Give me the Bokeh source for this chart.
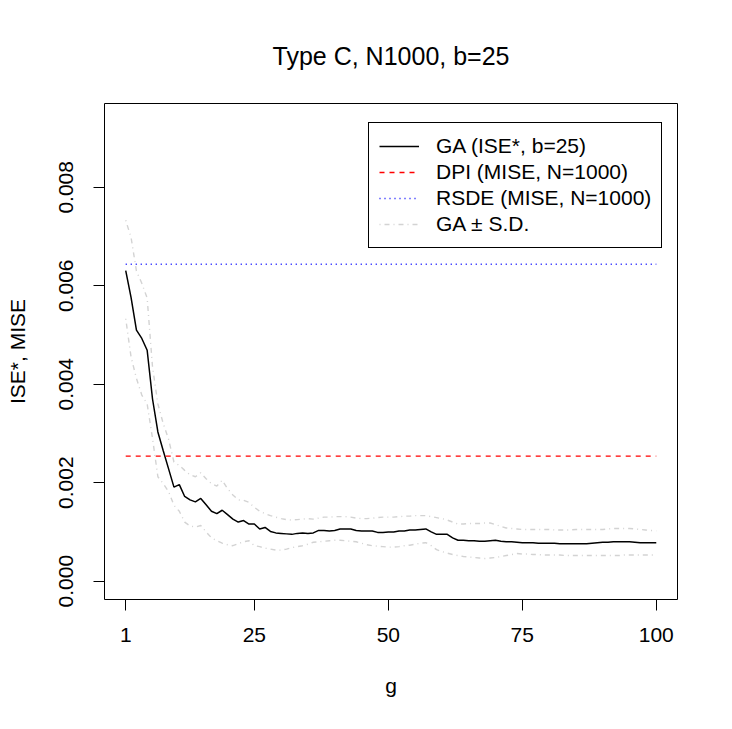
from bokeh.plotting import figure
from bokeh.models import (ColumnDataSource, FixedTicker, Legend, LegendItem, Range1d,
                          NumeralTickFormatter)
from bokeh.embed import file_html
from bokeh.resources import INLINE

# ---- data (values in units of 1e-3) ----
g = list(range(1, 101))
ga = [6.31, 5.76, 5.10, 4.93, 4.69, 3.70, 3.03, 2.65, 2.28, 1.91,
      1.96, 1.72, 1.65, 1.61, 1.68, 1.55, 1.42, 1.37, 1.44, 1.35,
      1.26, 1.20, 1.23, 1.16, 1.16, 1.06, 1.09, 1.01, 0.98, 0.97,
      0.96, 0.95, 0.97, 0.98, 0.97, 0.98, 1.03, 1.03, 1.02, 1.03,
      1.06, 1.06, 1.06, 1.03, 1.02, 1.02, 1.02, 0.99, 0.99, 1.00,
      1.00, 1.02, 1.02, 1.04, 1.04, 1.05, 1.06, 1.00, 0.95, 0.95,
      0.95, 0.88, 0.83, 0.83, 0.82, 0.82, 0.81, 0.81, 0.82, 0.83,
      0.81, 0.80, 0.80, 0.79, 0.78, 0.78, 0.78, 0.77, 0.77, 0.77,
      0.77, 0.76, 0.76, 0.76, 0.76, 0.76, 0.76, 0.77, 0.78, 0.79,
      0.79, 0.80, 0.80, 0.80, 0.80, 0.79, 0.78, 0.78, 0.78, 0.78]
ga_upper = [7.33, 6.98, 6.30, 6.05, 5.75, 4.35, 3.60, 3.20, 2.88, 2.42,
            2.35, 2.25, 2.16, 2.12, 2.20, 2.08, 1.98, 1.93, 2.05, 1.88,
            1.75, 1.65, 1.64, 1.60, 1.50, 1.42, 1.37, 1.33, 1.30, 1.27,
            1.25, 1.24, 1.25, 1.26, 1.27, 1.26, 1.28, 1.30, 1.30, 1.31,
            1.31, 1.31, 1.30, 1.28, 1.27, 1.27, 1.28, 1.29, 1.30, 1.30,
            1.30, 1.31, 1.32, 1.32, 1.33, 1.33, 1.33, 1.31, 1.29, 1.27,
            1.24, 1.20, 1.16, 1.16, 1.17, 1.17, 1.17, 1.18, 1.18, 1.15,
            1.11, 1.08, 1.07, 1.06, 1.05, 1.05, 1.05, 1.05, 1.05, 1.05,
            1.04, 1.04, 1.04, 1.04, 1.05, 1.05, 1.05, 1.05, 1.05, 1.05,
            1.06, 1.07, 1.07, 1.07, 1.07, 1.06, 1.05, 1.04, 1.03, 1.02]
ga_lower = [5.33, 4.55, 4.12, 3.78, 3.60, 2.90, 2.12, 1.98, 1.82, 1.54,
            1.42, 1.20, 1.12, 1.10, 1.13, 1.00, 0.88, 0.82, 0.77, 0.74,
            0.72, 0.76, 0.80, 0.82, 0.72, 0.70, 0.67, 0.65, 0.63, 0.63,
            0.65, 0.68, 0.70, 0.72, 0.75, 0.79, 0.80, 0.81, 0.82, 0.83,
            0.83, 0.82, 0.81, 0.80, 0.77, 0.74, 0.72, 0.71, 0.70, 0.69,
            0.69, 0.70, 0.72, 0.73, 0.75, 0.77, 0.78, 0.72, 0.64, 0.60,
            0.57, 0.54, 0.52, 0.50, 0.49, 0.48, 0.47, 0.46, 0.47, 0.48,
            0.50, 0.52, 0.54, 0.56, 0.55, 0.55, 0.54, 0.54, 0.53, 0.53,
            0.53, 0.53, 0.52, 0.52, 0.52, 0.52, 0.52, 0.52, 0.52, 0.52,
            0.52, 0.52, 0.52, 0.53, 0.53, 0.53, 0.53, 0.53, 0.53, 0.53]
dpi_mise = 2.54
rsde_mise = 6.44
UNIT = 1e-3

x_ticks = [1, 25, 50, 75, 100]
y_ticks = [0.000, 0.002, 0.004, 0.006, 0.008]
y_lim = (0.0, 0.00933)

labels = ["GA (ISE*, b=25)", "DPI (MISE, N=1000)", "RSDE (MISE, N=1000)", "GA \u00b1 S.D."]

FONT = "Liberation Sans"

src = ColumnDataSource(dict(
    g=g,
    ga=[v * UNIT for v in ga],
    up=[v * UNIT for v in ga_upper],
    lo=[v * UNIT for v in ga_lower],
    dpi=[dpi_mise * UNIT] * len(g),
    rsde=[rsde_mise * UNIT] * len(g),
))

xr = (min(g), max(g))
xpad = 0.04 * (xr[1] - xr[0])
ypad = 0.04 * (y_lim[1] - y_lim[0])

p = figure(width=724, height=721, output_backend="svg", toolbar_location=None,
           x_range=Range1d(xr[0] - xpad, xr[1] + xpad),
           y_range=Range1d(y_lim[0] - ypad, y_lim[1] + ypad),
           title="Type C, N1000, b=25",
           min_border_left=104, min_border_right=47, min_border_top=103, min_border_bottom=122)
p.frame_width = 573
p.frame_height = 496

p.title.text_font = FONT
p.title.text_font_size = "25px"
p.title.text_font_style = "normal"
p.title.text_color = "black"
p.title.align = "center"
p.title.vertical_align = "top"
p.title.standoff = 64

p.xgrid.visible = False
p.ygrid.visible = False
p.outline_line_color = "black"
p.outline_line_width = 1
p.background_fill_color = "white"
p.border_fill_color = "white"

for ax in (p.xaxis[0], p.yaxis[0]):
    ax.axis_line_color = None
    ax.major_tick_line_color = "black"
    ax.major_tick_line_width = 1
    ax.major_tick_out = 11
    ax.major_tick_in = 0
    ax.minor_tick_line_color = None
    ax.major_label_text_font = FONT
    ax.major_label_text_font_size = "21px"
    ax.axis_label_text_font = FONT
    ax.axis_label_text_font_size = "21px"
    ax.axis_label_text_font_style = "normal"
    ax.major_label_text_color = "black"
    ax.axis_label_text_color = "black"

p.xaxis.ticker = FixedTicker(ticks=x_ticks)
p.xaxis.axis_label = "g"
p.xaxis.major_label_standoff = 17
p.xaxis.axis_label_standoff = 29

p.yaxis.ticker = FixedTicker(ticks=y_ticks)
p.yaxis.formatter = NumeralTickFormatter(format="0.000")
p.yaxis.major_label_orientation = "vertical"
p.yaxis.axis_label = "ISE*, MISE"
p.yaxis.major_label_standoff = 20
p.yaxis.axis_label_standoff = 28

r_ga = p.line("g", "ga", source=src, line_color="black", line_width=1.5)
r_dpi = p.line("g", "dpi", source=src, line_color="red", line_width=1.4, line_dash="5 5")
r_rsde = p.line("g", "rsde", source=src, line_color="blue", line_width=1.5, line_dash="1 4")
r_up = p.line("g", "up", source=src, line_color="#d3d3d3", line_width=1.4, line_dash="1 4 5 4")
r_lo = p.line("g", "lo", source=src, line_color="#d3d3d3", line_width=1.4, line_dash="1 4 5 4")

legend = Legend(items=[
    LegendItem(label=labels[0], renderers=[r_ga]),
    LegendItem(label=labels[1], renderers=[r_dpi]),
    LegendItem(label=labels[2], renderers=[r_rsde]),
    LegendItem(label=labels[3], renderers=[r_up]),
], location=(264, 351))
legend.margin = 0
legend.padding = 10
legend.spacing = 0
legend.glyph_width = 40
legend.glyph_height = 26
legend.label_height = 26
legend.label_standoff = 17
legend.label_text_font = FONT
legend.label_text_font_size = "21px"
legend.label_text_color = "black"
legend.label_text_baseline = "middle"
legend.border_line_color = "black"
legend.border_line_width = 1
legend.border_line_alpha = 1
legend.background_fill_color = "white"
legend.background_fill_alpha = 1
p.add_layout(legend)

open("out.html", "w").write(file_html(p, INLINE))
